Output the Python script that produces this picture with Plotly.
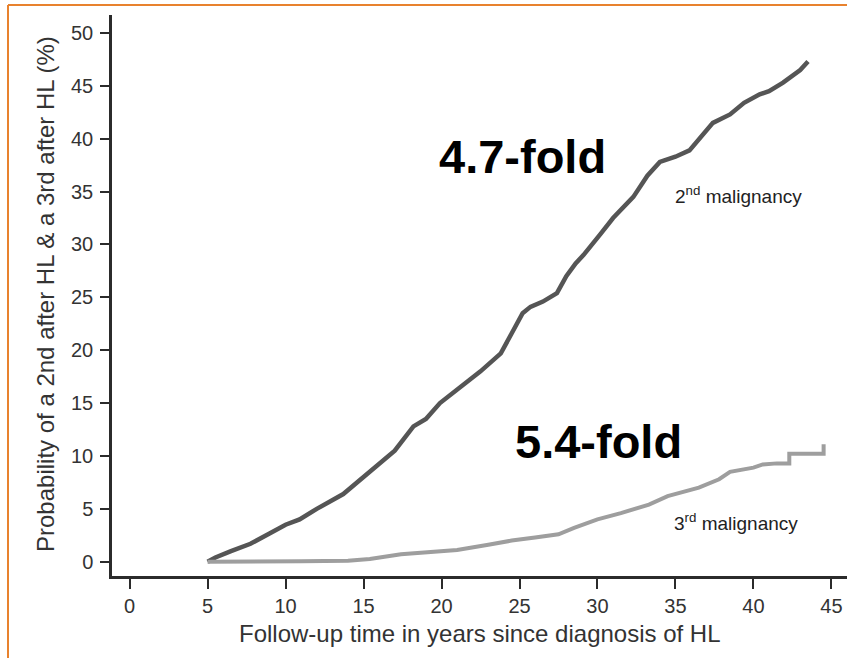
import plotly.graph_objects as go

# Cumulative probability (%) of a second malignancy after HL
second_years = [5.0, 5.5, 6.5, 7.75, 9.0, 10.0, 10.9, 12.0, 13.7, 15.0, 16.1, 17.0,
                18.2, 19.0, 19.9, 21.6, 22.5, 23.8, 24.5, 25.2, 25.7, 26.5, 27.4,
                28.0, 28.6, 29.1, 30.2, 31.0, 32.3, 33.2, 34.0, 35.0, 35.9, 36.5,
                37.4, 38.5, 39.4, 40.4, 41.0, 41.9, 42.5, 43.0, 43.5]
second_pct = [0.0, 0.4, 1.0, 1.7, 2.7, 3.5, 4.0, 5.0, 6.4, 8.0, 9.3, 10.5,
              12.8, 13.5, 15.0, 16.9, 18.0, 19.7, 21.5, 23.5, 24.1, 24.6, 25.4,
              27.0, 28.2, 29.0, 31.0, 32.5, 34.5, 36.5, 37.8, 38.3, 38.9, 40.0,
              41.5, 42.3, 43.4, 44.2, 44.5, 45.3, 46.0, 46.5, 47.3]

# Cumulative probability (%) of a third malignancy after HL
third_years = [5.0, 8.0, 11.0, 14.0, 15.4, 17.4, 19.0, 21.0, 23.0, 24.5, 26.0,
               27.5, 28.5, 30.0, 31.5, 33.3, 34.5, 35.5, 36.5, 37.8, 38.5, 40.0,
               40.6, 41.5, 42.3, 42.3, 44.5, 44.5]
third_pct = [0.0, 0.0, 0.05, 0.1, 0.25, 0.7, 0.9, 1.1, 1.6, 2.0, 2.3,
             2.6, 3.2, 4.0, 4.6, 5.4, 6.2, 6.6, 7.0, 7.8, 8.5, 8.9,
             9.2, 9.3, 9.3, 10.2, 10.2, 11.1]

x_ticks = [0, 5, 10, 15, 20, 25, 30, 35, 40, 45]
y_ticks = [0, 5, 10, 15, 20, 25, 30, 35, 40, 45, 50]

x_title = "Follow-up time in years since diagnosis of HL"
y_title = "Probability of a 2nd after HL & a 3rd after HL (%)"

W, H = 847, 658
ML, MR, MT, MB = 112, 0, 15, 82
PW, PH = W - ML - MR, H - MT - MB


def px_x(p):
    return (p - ML) / PW


def px_y(p):
    return (H - MB - p) / PH


FONT = "Liberation Sans, Arial, Helvetica, sans-serif"
AXIS_COLOR = "#2b2b2b"

fig = go.Figure()
fig.add_trace(go.Scatter(x=second_years, y=second_pct, mode="lines",
                         line=dict(color="#555555", width=4.5),
                         name="2nd malignancy", showlegend=False))
fig.add_trace(go.Scatter(x=third_years, y=third_pct, mode="lines",
                         line=dict(color="#9e9e9e", width=4),
                         name="3rd malignancy", showlegend=False))

axis_common = dict(showgrid=False, zeroline=False, showline=True,
                   linecolor=AXIS_COLOR, linewidth=2.5, ticks="outside",
                   tickcolor=AXIS_COLOR, tickwidth=2, automargin=False,
                   tickfont=dict(family=FONT, size=20, color="#333333"))

fig.update_xaxes(range=[-1.13, 46.0], tickvals=x_ticks, ticklen=10,
                 ticklabelstandoff=0, **axis_common)
fig.update_yaxes(range=[-1.35, 51.7], tickvals=y_ticks, ticklen=9,
                 ticklabelstandoff=3, **axis_common)

annotations = [
    dict(text="<b>4.7-fold</b>", x=25.2, y=38.3, xref="x", yref="y",
         showarrow=False, font=dict(family=FONT, size=47, color="#000000")),
    dict(text="<b>5.4-fold</b>", x=30.05, y=11.4, xref="x", yref="y",
         showarrow=False, font=dict(family=FONT, size=47, color="#000000")),
    dict(text="2<sup>nd</sup> malignancy", x=34.85, y=34.7, xref="x", yref="y",
         xanchor="left", yanchor="middle", showarrow=False,
         font=dict(family=FONT, size=19, color="#222222")),
    dict(text="3<sup>rd</sup> malignancy", x=34.8, y=3.75, xref="x", yref="y",
         xanchor="left", yanchor="middle", showarrow=False,
         font=dict(family=FONT, size=19, color="#222222")),
    dict(text=x_title, x=px_x(480), y=px_y(633), xref="paper", yref="paper",
         xanchor="center", yanchor="middle", showarrow=False,
         font=dict(family=FONT, size=24, color="#333333")),
    dict(text=y_title, x=px_x(45), y=px_y(294), xref="paper", yref="paper",
         xanchor="center", yanchor="middle", textangle=-90, showarrow=False,
         font=dict(family=FONT, size=24, color="#333333")),
]

# Orange slide frame along the top and left edges
frame_color = "#E8822E"
shapes = [
    dict(type="line", xref="paper", yref="paper", x0=px_x(8), x1=px_x(W + 5),
         y0=px_y(5), y1=px_y(5), line=dict(color=frame_color, width=2)),
    dict(type="line", xref="paper", yref="paper", x0=px_x(8), x1=px_x(8),
         y0=px_y(5), y1=px_y(H + 5), line=dict(color=frame_color, width=2)),
]

fig.update_layout(width=W, height=H, template="none",
                  margin=dict(l=ML, r=MR, t=MT, b=MB, autoexpand=False),
                  paper_bgcolor="white", plot_bgcolor="white",
                  annotations=annotations, shapes=shapes)

fig.write_html("out.html")
